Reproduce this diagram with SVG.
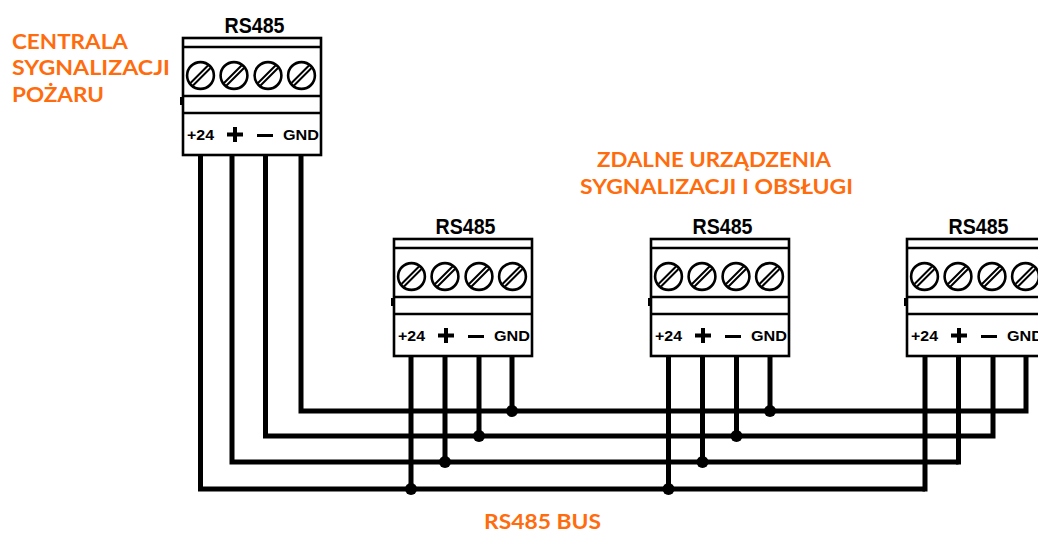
<svg xmlns="http://www.w3.org/2000/svg" width="1038" height="533" viewBox="0 0 1038 533">
<style>
.o{fill:#ff6c0d;font-family:Lato,"Open Sans",sans-serif;font-weight:700;font-size:21.500px}
.t{fill:#000;font-family:"Liberation Sans",Arial,sans-serif;font-weight:700}
.l{fill:none;stroke:#000;stroke-width:2.6}
.w{fill:none;stroke:#000;stroke-width:5}
.s{fill:none;stroke:#000;stroke-width:2}
</style>
<defs>
<g id="sc"><circle r="13.400" fill="#fff" stroke="#000" stroke-width="2.600"/><path d="M-10 7.500L7.500-10M-7.500 10L10-7.500" class="s"/></g>
<g id="blk">
<rect x="0" y="0" width="138" height="117" fill="#fff" class="l"/>
<path d="M0 9H138M0 58H138M0 75H138" class="l"/>
<rect x="-3" y="59" width="3" height="8" fill="#000"/>
<use href="#sc" x="17.500" y="37.500"/><use href="#sc" x="51" y="37.500"/><use href="#sc" x="85" y="37.500"/><use href="#sc" x="118.500" y="37.500"/>
<text x="71.500" y="-5" text-anchor="middle" class="t" font-size="22" textLength="60" lengthAdjust="spacingAndGlyphs">RS485</text>
<text x="4" y="102" class="t" font-size="15" textLength="27" lengthAdjust="spacingAndGlyphs">+24</text>
<path d="M44 96.500H60M52 89V104" fill="none" stroke="#000" stroke-width="4"/>
<path d="M74 97.500H90" fill="none" stroke="#000" stroke-width="3"/>
<text x="100" y="102" class="t" font-size="15" textLength="36" lengthAdjust="spacingAndGlyphs">GND</text>
</g>
</defs>
<g id="connectors">
<path class="w" d="M925 489H200.500V155M958.500 462H232V155M265.500 155V436H993V355M301 155V411H1026V355"/>
<path class="w" d="M411 355V489M445 355V462M479 355V436M512 355V411"/>
<path class="w" d="M668.500 355V489M702.500 355V462M736.500 355V436M770 355V411"/>
<path class="w" d="M925 355V491.500M958.500 355V464.500"/>
<g fill="#000"><circle cx="411" cy="489" r="6"/><circle cx="445" cy="462" r="6"/><circle cx="479" cy="436" r="6"/><circle cx="512" cy="411" r="6"/><circle cx="668.500" cy="489" r="6"/><circle cx="702.500" cy="462" r="6"/><circle cx="736.500" cy="436" r="6"/><circle cx="770" cy="411" r="6"/></g>
</g>
<g id="node-central"><use href="#blk" x="183" y="38"/></g>
<g id="node-device-1"><use href="#blk" x="394" y="239"/></g>
<g id="node-device-2"><use href="#blk" x="651" y="239"/></g>
<g id="node-device-3"><use href="#blk" x="907" y="239"/></g>
<g id="labels">
<text class="o" x="12" y="49" textLength="116" lengthAdjust="spacingAndGlyphs">CENTRALA</text>
<text class="o" x="12" y="75" textLength="158" lengthAdjust="spacingAndGlyphs">SYGNALIZACJI</text>
<text class="o" x="12" y="102" textLength="92" lengthAdjust="spacingAndGlyphs">POŻARU</text>
<text class="o" x="597" y="167" textLength="234" lengthAdjust="spacingAndGlyphs">ZDALNE URZĄDZENIA</text>
<text class="o" x="580" y="194" textLength="273" lengthAdjust="spacingAndGlyphs">SYGNALIZACJI I OBSŁUGI</text>
<text class="o" x="484" y="528.500" textLength="117" lengthAdjust="spacingAndGlyphs">RS485 BUS</text>
</g>
</svg>
